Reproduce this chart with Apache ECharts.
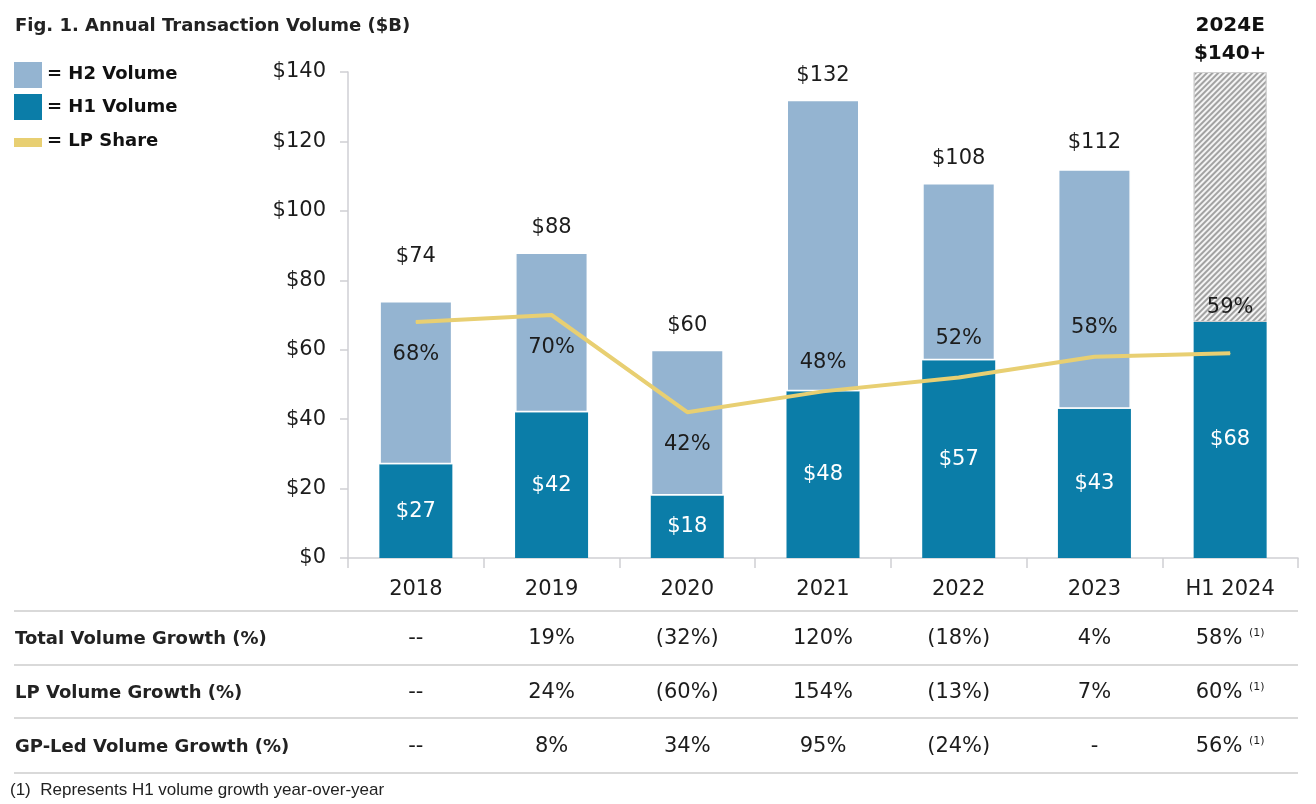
<!DOCTYPE html>
<html>
<head>
<meta charset="utf-8">
<script src="https://cdn.jsdelivr.net/npm/echarts@6/dist/echarts.min.js"></script>
<style>
  html, body { margin: 0; padding: 0; background: #fff; }
  #main { width: 1316px; height: 804px; }
</style>
</head>
<body>
<div id="main"></div>
<script>
// values ($B)
const categories = ['2018', '2019', '2020', '2021', '2022', '2023', 'H1 2024'];
const h1Volume = [27, 42, 18, 48, 57, 43, 68];
const h2Volume = [47, 46, 42, 84, 51, 69, 72];   // last one = 2024E remainder (hatched)
const totalLabels = ['$74', '$88', '$60', '$132', '$108', '$112', '2024E\n$140+'];
const lpShare = [68, 70, 42, 48, 52, 58, 59];
const yTicks = [0, 20, 40, 60, 80, 100, 120, 140];

const rowLabels = ['Total Volume Growth (%)', 'LP Volume Growth (%)', 'GP-Led Volume Growth (%)'];
const totalGrowth = ['--', '19%', '(32%)', '120%', '(18%)', '4%', '58%'];
const lpGrowth = ['--', '24%', '(60%)', '154%', '(13%)', '7%', '60%'];
const gpGrowth = ['--', '8%', '34%', '95%', '(24%)', '-', '56%'];
const footnote = '(1)  Represents H1 volume growth year-over-year';

// label tweaks
const totalDist = [34, 14, 14, 14, 14, 16, 4];
const shareBelow = [true, true, true, false, false, false, false];
const shareDist = [22, 22, 21, 18, 28, 18, 35];

const FONT = 'DejaVu Sans';
const C_H1 = '#0b7da8';
const C_H2 = '#94b4d1';
const C_LP = '#e8cf72';
const TXT = '#1c1c1c';

var dom = document.getElementById('main');
var myChart = echarts.init(dom, null, { renderer: 'canvas' });

const h2Data = h2Volume.map((v, i) => {
  const item = {
    value: v,
    label: {
      show: true,
      position: 'top',
      distance: totalDist[i],
      formatter: totalLabels[i]
    }
  };
  if (i === h2Volume.length - 1) {
    item.itemStyle = {
      color: '#f4f4f4',
      borderColor: '#d0d0d0',
      borderWidth: 1,
      decal: {
        symbol: 'rect',
        symbolSize: 1,
        dashArrayX: [1, 0],
        dashArrayY: [1.5, 2],
        rotation: -Math.PI / 4,
        color: '#a2a2a2'
      }
    };
    item.label.fontWeight = 'bold';
    item.label.fontSize = 20;
    item.label.lineHeight = 28;
    item.label.color = '#111';
  }
  return item;
});

const lpData = lpShare.map((v, i) => ({
  value: v,
  label: {
    position: shareBelow[i] ? 'bottom' : 'top',
    distance: shareDist[i]
  }
}));

var option = {
  animation: false,
  title: {
    text: 'Fig. 1. Annual Transaction Volume ($B)',
    left: 10,
    top: 12,
    textStyle: { fontFamily: FONT, fontSize: 18, fontWeight: 'bold', color: '#222' }
  },
  grid: { left: 348, right: 18, top: 72, bottom: 246, containLabel: false },
  xAxis: {
    type: 'category',
    data: categories,
    axisLine: { lineStyle: { color: '#cfcfd4', width: 1.5 } },
    axisTick: { show: true, length: 10, alignWithLabel: false, lineStyle: { color: '#cfcfd4', width: 1.5 } },
    axisLabel: { color: TXT, fontFamily: FONT, fontSize: 21, margin: 21 }
  },
  yAxis: {
    type: 'value',
    min: yTicks[0],
    max: yTicks[yTicks.length - 1],
    interval: 20,
    splitLine: { show: false },
    axisLine: { show: true, lineStyle: { color: '#cfcfd4', width: 1.5 } },
    axisTick: { show: true, length: 8, lineStyle: { color: '#cfcfd4', width: 1.5 } },
    axisLabel: { color: TXT, fontFamily: FONT, fontSize: 21, margin: 22, formatter: '${value}' }
  },
  series: [
    {
      name: 'H1 Volume',
      type: 'bar',
      stack: 'vol',
      barWidth: 73,
      data: h1Volume,
      itemStyle: { color: C_H1 },
      label: {
        show: true,
        position: 'inside',
        color: '#fff',
        fontFamily: FONT,
        fontSize: 21,
        formatter: p => '$' + p.value
      }
    },
    {
      name: 'H2 Volume',
      type: 'bar',
      stack: 'vol',
      barWidth: 73,
      data: h2Data,
      itemStyle: { color: C_H2, borderColor: '#fff', borderWidth: 1.5 },
      label: { show: true, color: TXT, fontFamily: FONT, fontSize: 21 }
    },
    {
      name: 'LP Share',
      type: 'line',
      data: lpData,
      z: 5,
      symbol: 'circle',
      symbolSize: 1,
      itemStyle: { color: C_LP },
      lineStyle: { color: C_LP, width: 4 },
      label: {
        show: true,
        color: TXT,
        fontFamily: FONT,
        fontSize: 21,
        formatter: p => p.value + '%'
      }
    }
  ]
};

myChart.setOption(option);

// legend + growth table drawn with graphic, columns follow the category axis
const colX = categories.map((c, i) => myChart.convertToPixel({ xAxisIndex: 0 }, i));
const graphics = [];

const legendItems = [
  { name: '= H2 Volume', color: C_H2, y: 62, h: 26, ty: 74 },
  { name: '= H1 Volume', color: C_H1, y: 94, h: 26, ty: 107 },
  { name: '= LP Share', color: C_LP, y: 138, h: 9, ty: 141 }
];
legendItems.forEach(it => {
  graphics.push({
    type: 'rect',
    shape: { x: 14, y: it.y, width: 28, height: it.h },
    style: { fill: it.color }
  });
  graphics.push({
    type: 'text',
    x: 47, y: it.ty,
    style: {
      text: it.name, fill: '#111', font: 'bold 18px "DejaVu Sans"',
      align: 'left', verticalAlign: 'middle', textAlign: 'left', textVerticalAlign: 'middle'
    }
  });
});

const lineYs = [611, 665, 718, 773];
lineYs.forEach(y => {
  graphics.push({
    type: 'line',
    shape: { x1: 14, y1: y, x2: 1298, y2: y },
    style: { stroke: '#d9d9d9', lineWidth: 2 }
  });
});

const rows = [totalGrowth, lpGrowth, gpGrowth];
const rowYs = [639, 693, 747];
rows.forEach((row, r) => {
  graphics.push({
    type: 'text',
    x: 15, y: rowYs[r],
    style: {
      text: rowLabels[r], fill: '#222', font: 'bold 18px "DejaVu Sans"',
      align: 'left', verticalAlign: 'middle', textAlign: 'left', textVerticalAlign: 'middle'
    }
  });
  row.forEach((val, i) => {
    const last = i === row.length - 1;
    graphics.push({
      type: 'text',
      x: colX[i], y: rowYs[r],
      style: {
        text: last ? val + ' {sup|(1)}' : val,
        fill: TXT,
        font: '21px "DejaVu Sans"',
        align: 'center', verticalAlign: 'middle', textAlign: 'center', textVerticalAlign: 'middle',
        rich: {
          sup: { fontSize: 11, fontFamily: FONT, fill: TXT, color: TXT, padding: [0, 0, 12, 0] }
        }
      }
    });
  });
});

graphics.push({
  type: 'text',
  x: 10, y: 790,
  style: {
    text: footnote, fill: '#222', font: '17px "Liberation Sans"',
    align: 'left', verticalAlign: 'middle', textAlign: 'left', textVerticalAlign: 'middle'
  }
});

myChart.setOption({ graphic: { elements: graphics } });

window.addEventListener('resize', myChart.resize);
</script>
</body>
</html>
